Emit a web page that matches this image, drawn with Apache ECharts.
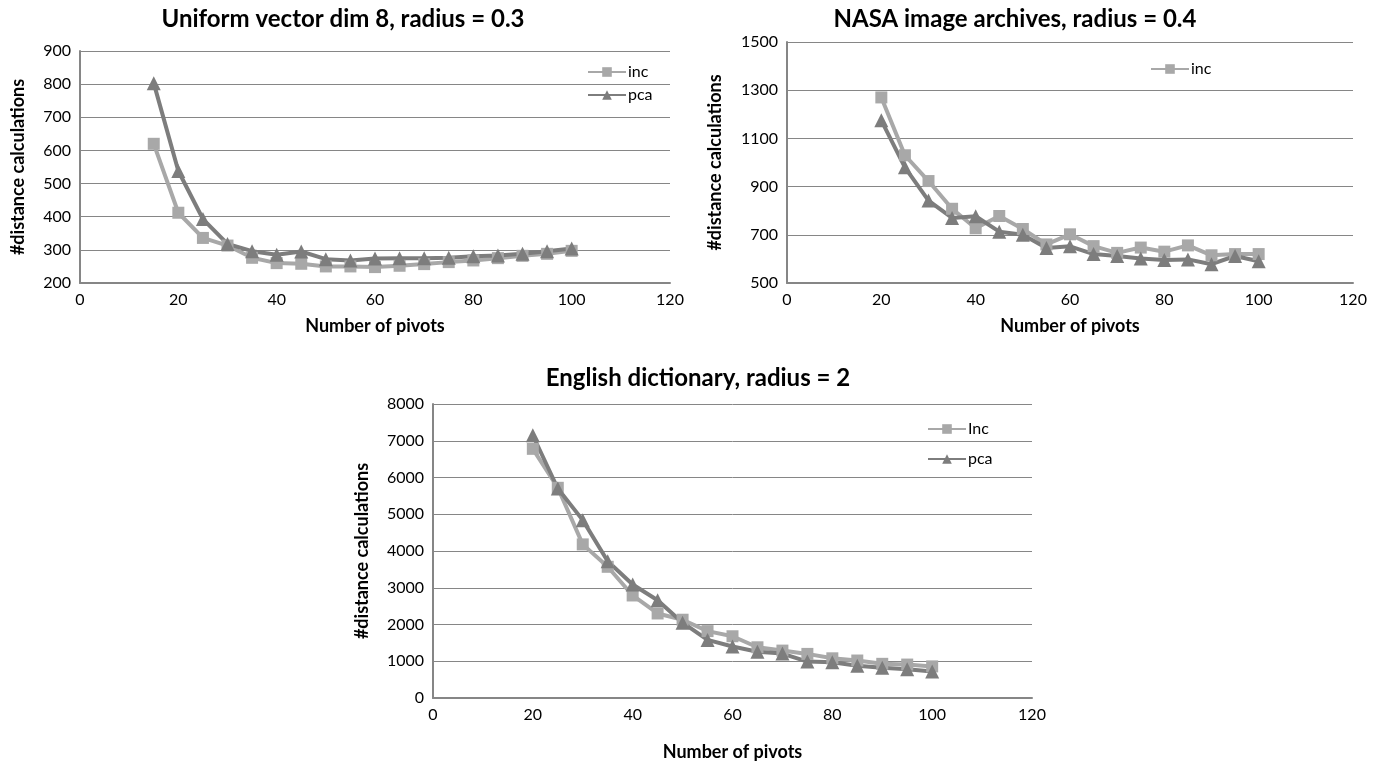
<!DOCTYPE html>
<html>
<head>
<meta charset="utf-8">
<script src="https://cdn.jsdelivr.net/npm/echarts@6/dist/echarts.min.js"></script>
<style>
html,body{margin:0;padding:0;background:#fff;}
#chart{width:1385px;height:767px;}
</style>
</head>
<body>
<div id="chart"></div>
<script>
// ---- Data ----
const titles = ['Uniform vector dim 8, radius = 0.3', 'NASA image archives, radius = 0.4', 'English dictionary, radius = 2'];
const xName = 'Number of pivots';
const yName = '#distance calculations';

const pivots1 = [15,20,25,30,35,40,45,50,55,60,65,70,75,80,85,90,95,100];
const inc1 = [620,412,336,313,276,260,258,250,250,248,252,257,263,268,275,282,288,297];
const pca1 = [803,538,393,318,296,285,295,272,268,274,275,275,276,281,283,288,296,304];

const pivots2 = [20,25,30,35,40,45,50,55,60,65,70,75,80,85,90,95,100];
const inc2 = [1270,1030,923,808,727,778,724,660,702,653,625,647,630,656,615,620,620];
const pca2 = [1175,980,842,770,777,713,700,645,652,620,612,602,595,598,578,612,590];

const pivots3 = [20,25,30,35,40,45,50,55,60,65,70,75,80,85,90,95,100];
const inc3 = [6780,5720,4180,3570,2790,2300,2130,1820,1680,1380,1290,1200,1080,1020,930,910,860];
const pca3 = [7150,5700,4840,3720,3090,2660,2050,1580,1400,1260,1210,990,970,880,820,780,720];

const names1 = ['inc','pca'];
const names2 = ['inc','pca'];
const names3 = ['Inc','pca'];

// ---- Chart ----
const FONT = 'Lato';
const incColor = '#A8A8A8';
const pcaColor = '#7D7D7D';
const axisGray = '#868686';

function pairs(xs, ys){ return xs.map((x,i)=>[x, ys[i]]); }

function xAxis(gi, nameGap){
  return {
    type:'value', gridIndex:gi, min:0, max:120, interval:20,
    name:xName, nameLocation:'middle', nameGap:nameGap,
    nameTextStyle:{fontFamily:FONT, fontWeight:'bold', fontSize:18, color:'#000'},
    axisLine:{show:true, lineStyle:{color:axisGray, width:2}},
    axisTick:{show:false},
    axisLabel:{fontFamily:FONT, fontSize:16, color:'#000', margin:9, formatter:v=>String(v)},
    splitLine:{show:false}
  };
}
function yAxis(gi, min, max, interval, nameGap){
  return {
    type:'value', gridIndex:gi, min:min, max:max, interval:interval,
    name:yName, nameLocation:'middle', nameGap:nameGap, nameRotate:90,
    nameTextStyle:{fontFamily:FONT, fontWeight:'bold', fontSize:18, color:'#000'},
    axisLine:{show:true, lineStyle:{color:axisGray, width:2}},
    axisTick:{show:false},
    axisLabel:{fontFamily:FONT, fontSize:16, color:'#000', margin:9, formatter:v=>String(v)},
    splitLine:{show:true, lineStyle:{color:axisGray, width:1}}
  };
}
function ser(name, gi, xs, ys, color, symbol, size){
  return {
    name:name, type:'line', xAxisIndex:gi, yAxisIndex:gi,
    data:pairs(xs, ys), symbol:symbol, symbolSize:size,
    lineStyle:{color:color, width:4}, itemStyle:{color:color},
    animation:false
  };
}
function legend(left, top, data, gap){
  return {
    left:left, top:top, orient:'vertical', data:data,
    itemWidth:38, itemHeight:12, itemGap:gap,
    textStyle:{fontFamily:FONT, fontSize:16, color:'#000', padding:[0,0,0,-3]}
  };
}

const option = {
  backgroundColor:'#fff',
  animation:false,
  title:[
    {text:titles[0], left:338, top:2, textAlign:'center', textStyle:{fontFamily:FONT, fontWeight:'bold', fontSize:24, color:'#000'}},
    {text:titles[1], left:1010, top:2, textAlign:'center', textStyle:{fontFamily:FONT, fontWeight:'bold', fontSize:24, color:'#000'}},
    {text:titles[2], left:693, top:361, textAlign:'center', textStyle:{fontFamily:FONT, fontWeight:'bold', fontSize:24, color:'#000'}}
  ],
  legend:[
    legend(582, 59, names1, 7),
    legend(1145, 56, [names2[0]], 7),
    legend(922, 416, names3, 14)
  ],
  grid:[
    {left:80, top:51, width:590, height:232},
    {left:787, top:42, width:566, height:241},
    {left:433, top:404, width:599, height:294}
  ],
  xAxis:[xAxis(0,34), xAxis(1,34), xAxis(2,45)],
  yAxis:[yAxis(0,200,900,100,53), yAxis(1,500,1500,200,63), yAxis(2,0,8000,1000,62)],
  series:[
    ser(names1[0],0,pivots1,inc1,incColor,'rect',12),
    ser(names1[1],0,pivots1,pca1,pcaColor,'triangle',14),
    ser(names2[0],1,pivots2,inc2,incColor,'rect',12),
    ser(names2[1],1,pivots2,pca2,pcaColor,'triangle',14),
    ser(names3[0],2,pivots3,inc3,incColor,'rect',12),
    ser(names3[1],2,pivots3,pca3,pcaColor,'triangle',14)
  ]
};

const chart = echarts.init(document.getElementById('chart'), null, {renderer:'canvas'});
chart.setOption(option);
</script>
</body>
</html>
